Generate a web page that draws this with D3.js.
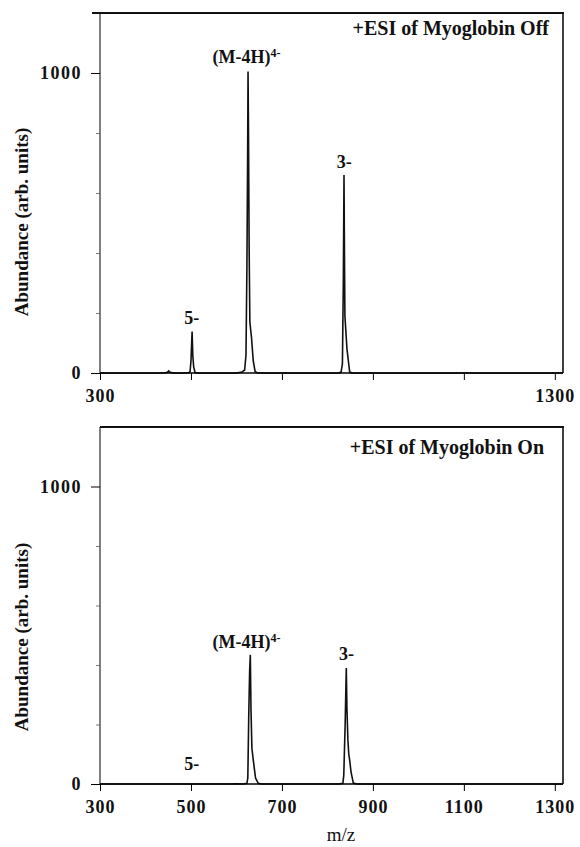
<!DOCTYPE html>
<html><head><meta charset="utf-8">
<script src="https://cdn.jsdelivr.net/npm/d3@7"></script>
<style>
body{margin:0;background:#fff;}
svg text{font-family:"Liberation Serif","Times New Roman",serif;fill:#111;}
</style></head>
<body>
<svg id="chart" width="580" height="847"></svg>
<script>
// ---------- data ----------
const xTicks = [300, 500, 700, 900, 1100, 1300];
const yMajorTicks = [0, 1000];
const yMinorTicks = [200, 400, 600, 800];
const titles = ["+ESI of Myoglobin Off", "+ESI of Myoglobin On"];
const xAxisTitle = "m/z";
const yAxisTitle = "Abundance (arb. units)";

// spectrum "Off": [m/z, abundance]
const offSpectrum = [
  [300,0],[440,0],[448,2],[451,7],[454,2],[462,0],
  [494,0],[498,5],[500,40],[502.5,138],[504,60],[506,20],[509,2],[512,0],
  [600,0],[612,3],[618,10],[621,60],[623,350],[624.5,700],[625.5,1005],[626.5,800],
  [628,400],[629.5,170],[633,120],[637,40],[641,5],[646,0],
  [825,0],[830,3],[833,30],[835,300],[836.5,660],[837.5,400],[838.5,190],[843,80],[849,3],[855,0],
  [1318,0]
];
// spectrum "On": [m/z, abundance]
const onSpectrum = [
  [300,0],[590,0],[600,1],[612,0],
  [615,0],[623,2],[625,20],[627,225],[629,380],[630.5,434],[632,250],[634,120],[637,80],[642,20],[648,2],[655,0],
  [825,0],[834,2],[836,30],[839,200],[841.5,390],[843,250],[845,150],[847,100],[849,80],[852,40],[857,3],[865,0],
  [1318,0]
];
// peak labels: [main text, m/z anchor, abundance anchor, superscript]
const offLabels = [["5-", 502, 150, ""], ["(M-4H)", 622, 1020, "4-"], ["3-", 837, 670, ""]];
const onLabels  = [["5-", 502, 35, ""], ["(M-4H)", 622, 445, "4-"], ["3-", 842, 405, ""]];

// ---------- layout ----------
const svg = d3.select("#chart");
const left = 100, right = 563;
const panels = [
  {top: 13, bottom: 373, data: offSpectrum, labels: offLabels, title: titles[0], tickLabels: [300, 1300], titleX: 549, titleY: 35, ylabY: 222},
  {top: 427, bottom: 784, data: onSpectrum, labels: onLabels, title: titles[1], tickLabels: xTicks, titleX: 544, titleY: 454, ylabY: 637}
];

panels.forEach((p, i) => {
  const x = d3.scaleLinear().domain([300, 1318]).range([left, right]);
  const y = d3.scaleLinear().domain([0, 1200]).range([p.bottom, p.top]);
  const g = svg.append("g");

  // spectrum
  const line = d3.line().x(d => x(d[0])).y(d => y(d[1]));
  g.append("path").datum(p.data).attr("d", line)
    .attr("fill", "none").attr("stroke", "#111").attr("stroke-width", 1.6)
    .attr("stroke-linejoin", "miter");

  // x axis
  const xa = d3.axisBottom(x).tickValues(xTicks).tickSize(7).tickPadding(9)
    .tickFormat(d => p.tickLabels.includes(d) ? d3.format("d")(d) : "");
  const gx = g.append("g").attr("transform", `translate(0,${p.bottom})`).call(xa);
  gx.select(".domain").attr("stroke-width", 1.6).attr("d", `M${left},0H${right}`);
  gx.selectAll(".tick line").attr("stroke-width", 1);
  gx.selectAll("text").attr("font-size", 18).attr("font-weight", "bold").attr("letter-spacing", 1)
    .attr("fill", "#111");

  // y axis major
  const ya = d3.axisLeft(y).tickValues(yMajorTicks).tickSize(9).tickPadding(9).tickFormat(d3.format("d"));
  const gy = g.append("g").attr("transform", `translate(${left},0)`).call(ya);
  gy.select(".domain").attr("stroke-width", 1).attr("d", `M0,${p.bottom}V${p.top}`);
  gy.selectAll("text").attr("font-size", 18).attr("font-weight", "bold").attr("letter-spacing", 1.5)
    .attr("fill", "#111");
  // y axis minor
  const ym = d3.axisLeft(y).tickValues(yMinorTicks).tickSize(4).tickFormat("");
  const gym = g.append("g").attr("transform", `translate(${left},0)`).call(ym);
  gym.select(".domain").remove();
  gym.selectAll(".tick line").attr("stroke", "#555").attr("stroke-width", 0.8);

  // top and right frame
  g.append("line").attr("x1", i === 0 ? left - 8 : left).attr("x2", right + 1)
    .attr("y1", p.top).attr("y2", p.top).attr("stroke", "#111").attr("stroke-width", 2);
  g.append("line").attr("x1", right).attr("x2", right)
    .attr("y1", p.top).attr("y2", p.bottom).attr("stroke", "#111").attr("stroke-width", 1.6);

  // title
  g.append("text").attr("x", p.titleX).attr("y", p.titleY).attr("text-anchor", "end")
    .attr("font-size", 20).attr("font-weight", "bold").text(p.title);

  // peak labels
  p.labels.forEach(l => {
    const t = g.append("text").attr("x", x(l[1])).attr("y", y(l[2]) - 4)
      .attr("text-anchor", "middle").attr("font-size", 18).attr("font-weight", "bold");
    t.append("tspan").text(l[0]);
    if (l[3]) t.append("tspan").attr("dy", -6).attr("font-size", 12).text(l[3]);
  });

  // y axis title
  g.append("text").attr("transform", `translate(28,${p.ylabY}) rotate(-90)`)
    .attr("text-anchor", "middle").attr("font-size", 19).attr("font-weight", "bold")
    .text(yAxisTitle);
});

// x axis title
svg.append("text").attr("x", 341).attr("y", 841).attr("text-anchor", "middle")
  .attr("font-size", 19).text(xAxisTitle);
</script>
</body></html>
